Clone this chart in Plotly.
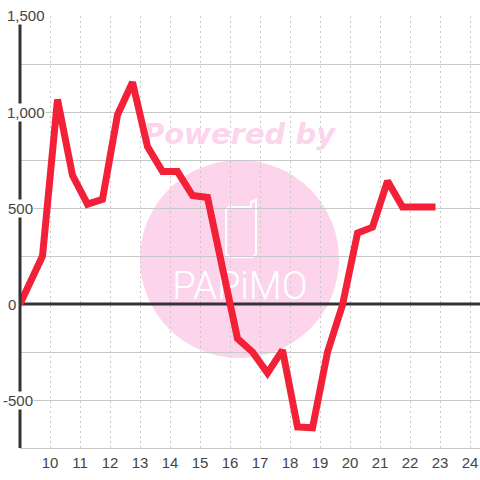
import plotly.graph_objects as go

hours = [9.0, 9.75, 10.25, 10.75, 11.25, 11.75, 12.25, 12.75, 13.25, 13.75, 14.25, 14.75, 15.25,
         15.75, 16.25, 16.75, 17.25, 17.75, 18.25, 18.75, 19.25, 19.75, 20.25, 20.75, 21.25,
         21.75, 22.25, 22.85]
values = [0, 250, 1065, 670, 520, 545, 985, 1155, 820, 690, 690, 565, 555,
          180, -180, -250, -360, -240, -640, -645, -250, -5, 370, 400, 640,
          505, 505, 505]
x_ticks = list(range(10, 25))
y_ticks = [1500, 1000, 500, 0, -500]
y_labels = ["1,500", "1,000", "500", "0", "-500"]
y_label_left = [6, 6, 7, 7, 2]

W = 480
LINE = "#f32138"
DARK = "#333333"
GRID = "#c8c8c8"
TEXT = "#444444"
PINK = "#fcd5ec"
X_RANGE = [9, 24.333]
Y_RANGE = [-750, 1500]


def px(v):
    return v / W


def py(v):
    return 1 - v / W


fig = go.Figure()

# Watermark text sits beneath the data line
fig.add_trace(go.Scatter(
    x=[16.3], y=[870], mode="text", text=["Powered by"], hoverinfo="skip", showlegend=False,
    textfont=dict(family="DejaVu Sans", size=29, color=PINK, weight="bold", style="italic"),
))
fig.add_trace(go.Scatter(
    x=[16.33], y=[75], mode="text", text=["PAPiMO"], hoverinfo="skip", showlegend=False,
    textfont=dict(family="Roboto", size=38, color="#ffffff", weight=300),
))
# Heavy zero line
fig.add_trace(go.Scatter(
    x=X_RANGE, y=[0, 0], mode="lines", line=dict(color=DARK, width=3),
    hoverinfo="skip", showlegend=False,
))
fig.add_trace(go.Scatter(
    x=hours, y=values, mode="lines", line=dict(color=LINE, width=7),
    showlegend=False,
))

shapes = [
    dict(type="circle", xref="paper", yref="paper", layer="below",
         x0=px(140), x1=px(339), y0=py(358), y1=py(160),
         fillcolor=PINK, line=dict(width=0)),
    dict(type="path", xref="paper", yref="paper", layer="below",
         path=(f"M {px(229)} {py(207)} L {px(251)} {py(207)} L {px(251)} {py(202)} "
               f"L {px(256)} {py(200)} L {px(256)} {py(254)} L {px(253)} {py(257)} "
               f"L {px(229)} {py(257)} L {px(226)} {py(254)} L {px(226)} {py(210)} Z"),
         line=dict(color="#ffffff", width=2), fillcolor="rgba(0,0,0,0)"),
    dict(type="line", xref="paper", yref="paper", layer="above",
         x0=px(20), x1=px(20), y0=py(448), y1=py(16),
         line=dict(color=DARK, width=3)),
]

annotations = [
    dict(x=px(left), xref="paper", y=val, yref="y", text=lab, showarrow=False,
         xanchor="left", yanchor="middle", bgcolor="#ffffff", borderpad=0,
         font=dict(family="Liberation Sans", size=15, color=TEXT))
    for val, lab, left in zip(y_ticks, y_labels, y_label_left)
]

fig.update_layout(
    width=W, height=W, margin=dict(l=0, r=0, t=0, b=0),
    paper_bgcolor="#ffffff", plot_bgcolor="#ffffff",
    showlegend=False, shapes=shapes, annotations=annotations,
    xaxis=dict(domain=[px(20), 1], range=X_RANGE, tickmode="array", tickvals=x_ticks,
               ticktext=[str(t) for t in x_ticks], showgrid=True, gridcolor=GRID, griddash="2px,3px",
               gridwidth=1, zeroline=False, ticks="", showline=True, linecolor=GRID, linewidth=1,
               ticklabelstandoff=1,
               tickfont=dict(family="Liberation Sans", size=15, color=TEXT)),
    yaxis=dict(domain=[py(448), py(16)], range=Y_RANGE, dtick=250, tick0=0,
               showgrid=True, gridcolor=GRID, gridwidth=1, zeroline=False,
               showticklabels=False, ticks="", showline=False),
)

fig.write_html("out.html", config={"displayModeBar": False},
               post_script="document.body.style.margin='0';")
